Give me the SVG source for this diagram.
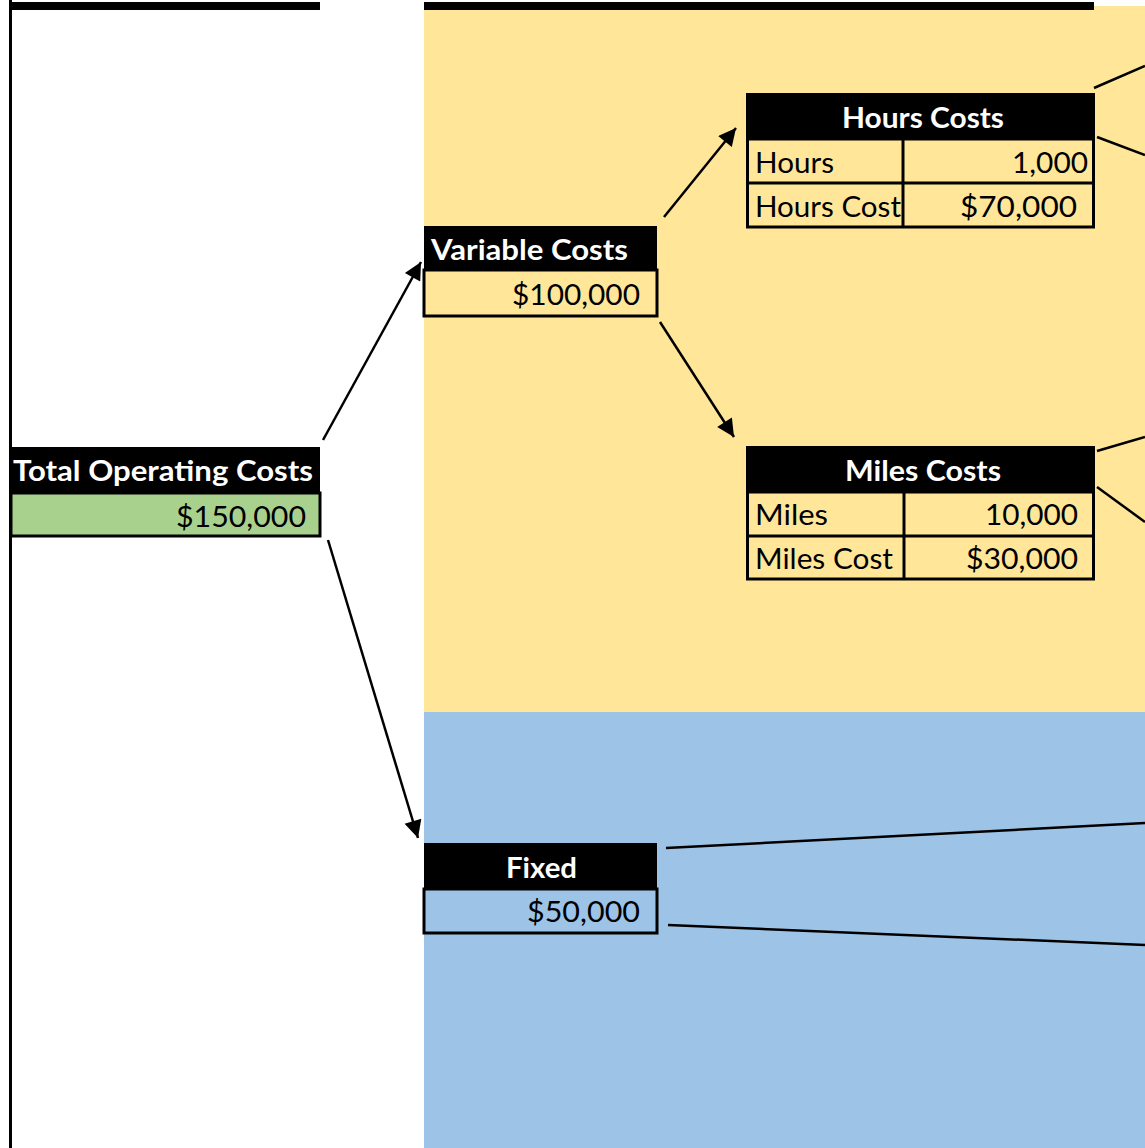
<svg xmlns="http://www.w3.org/2000/svg" width="1145" height="1148" viewBox="0 0 1145 1148">
<style>
.h{font-family:Lato,"Open Sans","Liberation Sans",sans-serif;font-weight:bold;font-size:29px;fill:#fff}
.t{font-family:Lato,"Open Sans","Liberation Sans",sans-serif;font-size:29px;fill:#000}
.box{stroke:#000;stroke-width:3}
.ln{stroke:#000;stroke-width:2.5;fill:none}
</style>
<defs>
<marker id="ah" viewBox="0 0 10 10" refX="10" refY="5" markerWidth="9" markerHeight="7" markerUnits="strokeWidth" orient="auto">
<path d="M0,0 L10,5 L0,10 z" fill="#000"/>
</marker>
</defs>
<rect width="1145" height="1148" fill="#fff"/>
<g id="backgrounds">
<rect x="424" y="6" width="721" height="706" fill="#FFE699"/>
<rect x="424" y="712" width="721" height="436" fill="#9DC3E6"/>
<rect x="11" y="2" width="309" height="8" fill="#000"/>
<rect x="424" y="2" width="670" height="8" fill="#000"/>
<rect x="9" y="0" width="3" height="1148" fill="#000"/>
</g>
<g id="connectors">
<line class="ln" x1="323" y1="440" x2="421" y2="262" marker-end="url(#ah)"/>
<line class="ln" x1="328" y1="540" x2="418" y2="838" marker-end="url(#ah)"/>
<line class="ln" x1="664" y1="217" x2="736" y2="128" marker-end="url(#ah)"/>
<line class="ln" x1="660" y1="322" x2="734" y2="437" marker-end="url(#ah)"/>
<line class="ln" x1="1094" y1="88" x2="1145" y2="66"/>
<line class="ln" x1="1097" y1="137" x2="1145" y2="155"/>
<line class="ln" x1="1097" y1="451" x2="1145" y2="437"/>
<line class="ln" x1="1097" y1="487" x2="1145" y2="522"/>
<line class="ln" x1="666" y1="848" x2="1145" y2="823"/>
<line class="ln" x1="668" y1="925" x2="1145" y2="945"/>
</g>
<g id="total">
<rect x="11" y="447" width="309" height="46" fill="#000"/>
<rect class="box" x="11" y="493" width="309" height="43" fill="#A9D18E"/>
<text class="h" x="13" y="481" textLength="300" lengthAdjust="spacingAndGlyphs">Total Operating Costs</text>
<text class="t" x="176" y="527" textLength="130" lengthAdjust="spacingAndGlyphs">$150,000</text>
</g>
<g id="variable">
<rect x="424" y="226" width="233" height="44" fill="#000"/>
<rect class="box" x="424" y="270" width="233" height="46" fill="#FFE699"/>
<text class="h" x="431" y="260" textLength="197" lengthAdjust="spacingAndGlyphs">Variable Costs</text>
<text class="t" x="512" y="305" textLength="128" lengthAdjust="spacingAndGlyphs">$100,000</text>
</g>
<g id="hours">
<rect x="746" y="93" width="349" height="46" fill="#000"/>
<rect class="box" x="747.5" y="139" width="346" height="88" fill="#FFE699"/>
<line class="box" x1="746" y1="183" x2="1095" y2="183"/>
<line class="box" x1="903" y1="139" x2="903" y2="228"/>
<text class="h" x="842" y="128" textLength="162" lengthAdjust="spacingAndGlyphs">Hours Costs</text>
<text class="t" x="755" y="173" textLength="79" lengthAdjust="spacingAndGlyphs">Hours</text>
<text class="t" x="1012" y="173" textLength="76" lengthAdjust="spacingAndGlyphs">1,000</text>
<text class="t" x="755" y="217" textLength="146" lengthAdjust="spacingAndGlyphs">Hours Cost</text>
<text class="t" x="960" y="217" textLength="117" lengthAdjust="spacingAndGlyphs">$70,000</text>
</g>
<g id="miles">
<rect x="746" y="446" width="349" height="46" fill="#000"/>
<rect class="box" x="747.5" y="492" width="346" height="87" fill="#FFE699"/>
<line class="box" x1="746" y1="536" x2="1095" y2="536"/>
<line class="box" x1="904" y1="492" x2="904" y2="580"/>
<text class="h" x="845" y="481" textLength="156" lengthAdjust="spacingAndGlyphs">Miles Costs</text>
<text class="t" x="755" y="525" textLength="73" lengthAdjust="spacingAndGlyphs">Miles</text>
<text class="t" x="985" y="525" textLength="93" lengthAdjust="spacingAndGlyphs">10,000</text>
<text class="t" x="755" y="569" textLength="138" lengthAdjust="spacingAndGlyphs">Miles Cost</text>
<text class="t" x="966" y="569" textLength="112" lengthAdjust="spacingAndGlyphs">$30,000</text>
</g>
<g id="fixed">
<rect x="424" y="843" width="233" height="46" fill="#000"/>
<rect class="box" x="424" y="889" width="233" height="44" fill="#9DC3E6"/>
<text class="h" x="506" y="878" textLength="71" lengthAdjust="spacingAndGlyphs">Fixed</text>
<text class="t" x="527" y="922" textLength="113" lengthAdjust="spacingAndGlyphs">$50,000</text>
</g>
</svg>
